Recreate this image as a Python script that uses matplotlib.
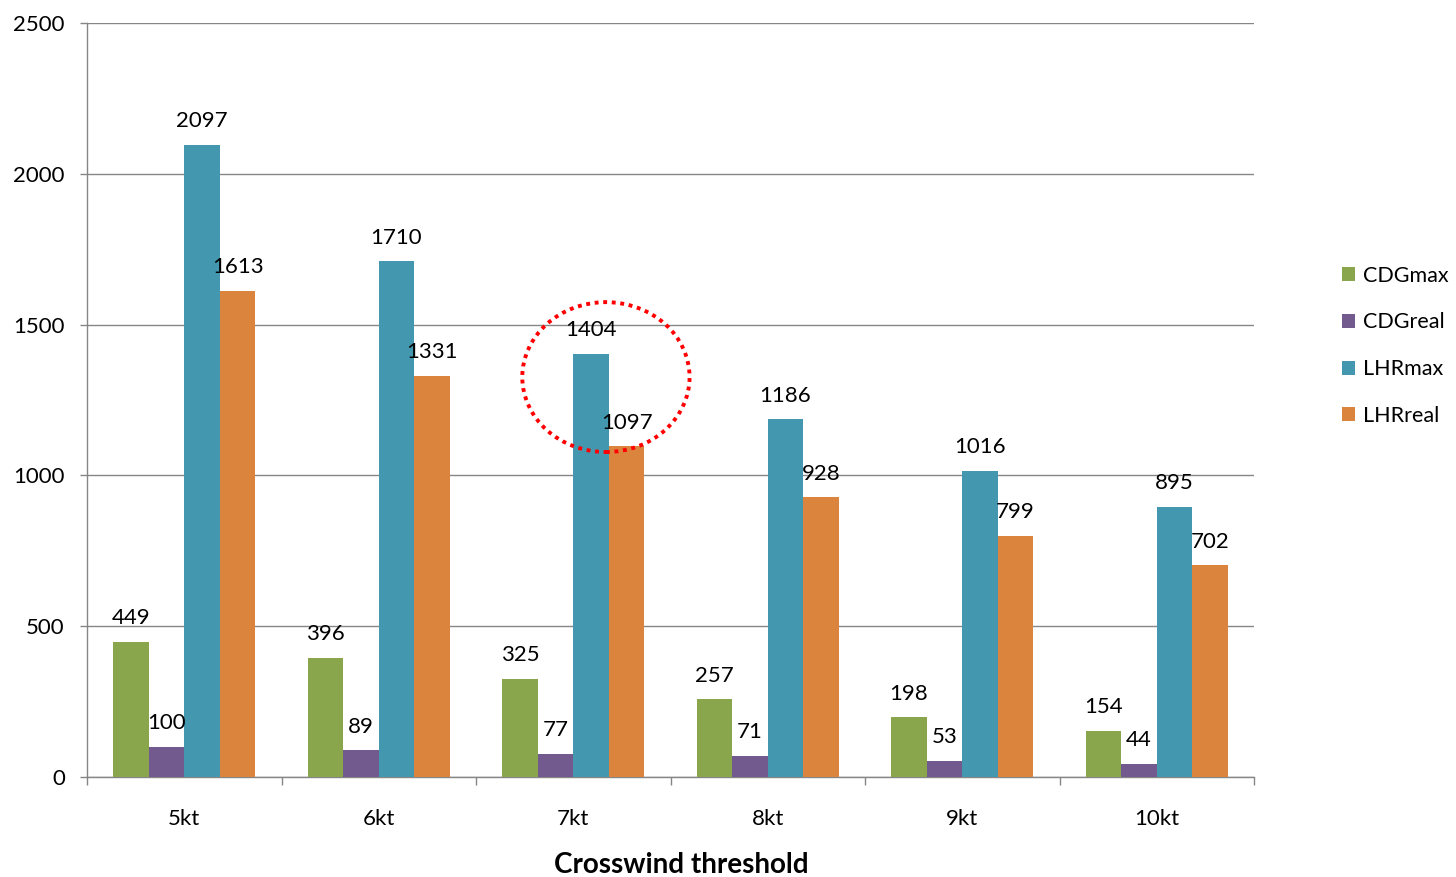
import matplotlib
matplotlib.use("Agg")
import matplotlib.pyplot as plt
from matplotlib.patches import Ellipse
import numpy as np

categories = ["5kt", "6kt", "7kt", "8kt", "9kt", "10kt"]
cdg_max = [449, 396, 325, 257, 198, 154]
cdg_real = [100, 89, 77, 71, 53, 44]
lhr_max = [2097, 1710, 1404, 1186, 1016, 895]
lhr_real = [1613, 1331, 1097, 928, 799, 702]
series_names = ["CDGmax", "CDGreal", "LHRmax", "LHRreal"]
colors = ["#8AA64D", "#725A8F", "#4398B0", "#DB843E"]
y_ticks = [0, 500, 1000, 1500, 2000, 2500]

plt.rcParams['font.family'] = ['Lato', 'DejaVu Sans']
FS = 16

W, H = 1456, 877
fig = plt.figure(figsize=(W / 100, H / 100), dpi=100)
ax = fig.add_axes([87 / W, (H - 777) / H, (1254 - 87) / W, (777 - 23) / H])

x = np.arange(len(categories))
bw = 0.1826
data = [cdg_max, cdg_real, lhr_max, lhr_real]
handles = []
for i, (vals, c, name) in enumerate(zip(data, colors, series_names)):
    offs = (i - 1.5) * bw
    b = ax.bar(x + offs, vals, width=bw, color=c, label=name, zorder=3)
    handles.append(b)
    for xi, v in zip(x + offs, vals):
        ax.annotate(str(v), (xi, v), xytext=(0, 17), textcoords="offset points",
                    ha="center", va="center", fontsize=FS, color="black", zorder=5)

ax.set_xlim(-0.5, len(categories) - 0.5)
ax.set_ylim(0, 2500)
ax.set_yticks(y_ticks)
ax.set_yticklabels([str(t) for t in y_ticks], fontsize=FS)
ax.yaxis.grid(True, color="#868686", linewidth=1.0, zorder=0)
ax.tick_params(axis="y", length=5, width=1, color="#868686", pad=11)

ax.set_xticks(x)
ax.set_xticklabels(categories, fontsize=FS)
ax.set_xticks(np.arange(-0.5, len(categories)), minor=True)
ax.tick_params(axis="x", which="major", length=0, pad=23)
ax.tick_params(axis="x", which="minor", length=6, width=1, color="#868686")

for s in ["top", "right"]:
    ax.spines[s].set_visible(False)
for s in ["left", "bottom"]:
    ax.spines[s].set_color("#868686")
    ax.spines[s].set_linewidth(1.0)

ax.set_xlabel("Crosswind threshold", fontsize=20, fontweight="bold")
ax.xaxis.set_label_coords((681 - 87) / (1254 - 87), -(865 - 777) / (777 - 23))
ax.xaxis.label.set_va("center")

# red dotted highlight circle around 7kt LHR values
ell = Ellipse(xy=(2.168, 1326), width=0.86, height=497, fill=False,
              edgecolor="red", linestyle=(0, (1, 1.2)), linewidth=2.8, zorder=6,
              clip_on=False)
ax.add_patch(ell)

leg = fig.legend(handles=handles, labels=series_names, loc="upper left",
                 bbox_to_anchor=(1331 / W, 1 - 255 / H), frameon=False,
                 fontsize=15.5, handlelength=0.62, handleheight=0.62,
                 handletextpad=0.35, labelspacing=1.24, borderpad=0)

fig.savefig("out.png", dpi=100)
